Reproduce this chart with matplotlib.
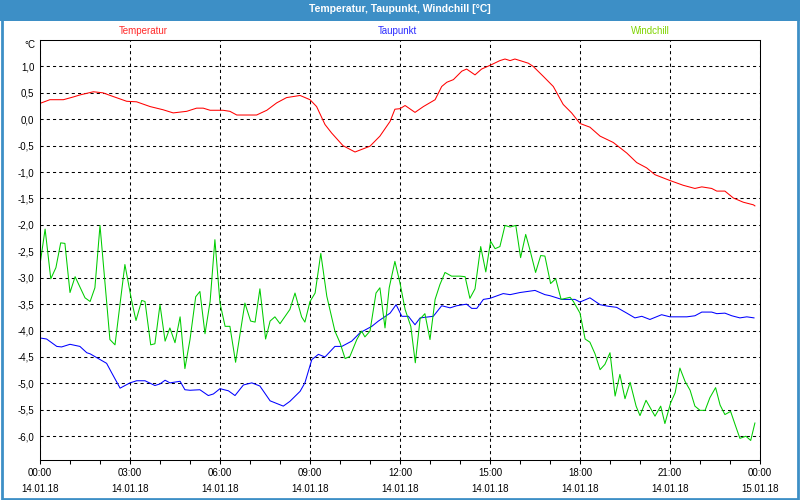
import datetime as dt
import matplotlib
matplotlib.use("Agg")
import matplotlib.pyplot as plt
import matplotlib.dates as mdates
from matplotlib.patches import Rectangle
from matplotlib.ticker import FuncFormatter
import numpy as np

plt.rcParams['font.family'] = ['Liberation Sans', 'DejaVu Sans']

START = dt.datetime(2018, 1, 14)

# (hour after 14.01.18 00:00, °C)
temperatur = [
    (0.0, 0.30), (0.33, 0.37), (0.78, 0.37), (1.1, 0.42), (1.33, 0.46), (1.78, 0.52),
    (2.1, 0.50), (2.44, 0.43), (2.89, 0.34), (3.22, 0.33), (3.67, 0.24), (4.1, 0.18),
    (4.44, 0.12), (4.89, 0.15), (5.22, 0.21), (5.44, 0.21), (5.67, 0.17), (6.1, 0.17),
    (6.33, 0.15), (6.56, 0.08), (7.22, 0.08), (7.56, 0.17), (7.89, 0.31), (8.22, 0.41),
    (8.67, 0.45), (9.0, 0.37), (9.22, 0.24), (9.5, -0.10), (9.72, -0.26), (10.1, -0.50),
    (10.5, -0.62), (11.0, -0.51), (11.33, -0.32), (11.67, -0.04), (11.83, 0.19), (12.0, 0.20),
    (12.17, 0.26), (12.5, 0.13), (12.78, 0.24), (13.17, 0.37), (13.39, 0.62), (13.56, 0.70),
    (13.78, 0.75), (14.06, 0.91), (14.22, 0.95), (14.5, 0.84), (14.72, 0.95), (15.0, 1.02),
    (15.33, 1.11), (15.5, 1.14), (15.67, 1.11), (15.83, 1.14), (16.06, 1.10), (16.28, 1.06),
    (16.44, 1.00), (16.78, 0.81), (17.11, 0.62), (17.44, 0.28), (17.72, 0.12), (18.0, -0.08),
    (18.33, -0.15), (18.67, -0.32), (19.11, -0.44), (19.56, -0.64), (19.89, -0.82), (20.22, -0.92),
    (20.5, -1.05), (21.0, -1.16), (21.44, -1.25), (21.83, -1.31), (22.06, -1.28), (22.39, -1.31),
    (22.56, -1.36), (22.83, -1.36), (23.11, -1.49), (23.44, -1.57), (23.78, -1.62), (23.83, -1.64),
]

taupunkt = [
    (0.0, -4.14), (0.22, -4.16), (0.56, -4.30), (0.72, -4.31), (1.0, -4.26), (1.33, -4.30),
    (1.56, -4.42), (1.67, -4.44), (2.22, -4.62), (2.39, -4.80), (2.67, -5.09), (3.0, -4.99),
    (3.22, -4.95), (3.5, -4.95), (3.83, -5.04), (4.0, -5.01), (4.17, -4.94), (4.33, -4.99),
    (4.67, -4.96), (4.83, -5.12), (5.0, -5.13), (5.33, -5.12), (5.61, -5.23), (5.78, -5.20),
    (6.0, -5.10), (6.28, -5.14), (6.5, -5.23), (6.78, -5.03), (7.06, -4.99), (7.33, -5.05),
    (7.67, -5.33), (8.11, -5.43), (8.33, -5.34), (8.67, -5.15), (8.83, -4.99), (9.06, -4.55),
    (9.28, -4.45), (9.5, -4.50), (9.83, -4.30), (10.06, -4.30), (10.39, -4.20), (10.67, -4.04),
    (11.06, -3.92), (11.28, -3.82), (11.67, -3.67), (11.87, -3.51), (12.06, -3.73), (12.28, -3.73),
    (12.5, -3.89), (12.67, -3.76), (13.11, -3.73), (13.39, -3.53), (13.67, -3.57), (13.89, -3.53),
    (14.22, -3.50), (14.39, -3.58), (14.56, -3.58), (14.78, -3.41), (15.0, -3.39), (15.44, -3.30),
    (15.67, -3.32), (16.0, -3.28), (16.5, -3.24), (16.83, -3.32), (17.0, -3.34), (17.39, -3.41),
    (17.83, -3.41), (18.0, -3.46), (18.33, -3.38), (18.67, -3.51), (18.94, -3.54), (19.22, -3.56),
    (19.56, -3.67), (19.83, -3.76), (20.06, -3.73), (20.33, -3.79), (20.72, -3.70), (21.0, -3.74),
    (21.56, -3.74), (21.83, -3.72), (22.06, -3.65), (22.39, -3.65), (22.56, -3.68), (22.83, -3.67),
    (23.06, -3.72), (23.33, -3.76), (23.56, -3.74), (23.8, -3.76),
]

windchill = [
    (0.0, -2.75), (0.17, -2.08), (0.36, -3.02), (0.53, -2.81), (0.69, -2.34), (0.83, -2.35),
    (1.0, -3.28), (1.17, -2.98), (1.5, -3.38), (1.67, -3.45), (1.83, -3.19), (2.0, -2.01),
    (2.33, -4.17), (2.5, -4.27), (2.83, -2.75), (3.06, -3.45), (3.2, -3.81), (3.39, -3.43),
    (3.5, -3.45), (3.69, -4.27), (3.83, -4.25), (4.0, -3.51), (4.17, -4.20), (4.33, -3.95),
    (4.5, -4.23), (4.67, -3.74), (4.83, -4.72), (5.0, -4.17), (5.19, -3.36), (5.33, -3.26),
    (5.5, -4.06), (5.67, -3.45), (5.83, -2.28), (6.0, -3.48), (6.17, -3.92), (6.33, -3.92),
    (6.52, -4.60), (6.83, -3.48), (7.02, -3.82), (7.17, -3.84), (7.33, -3.21), (7.52, -4.16),
    (7.67, -3.82), (7.83, -3.74), (8.0, -3.87), (8.33, -3.60), (8.5, -3.29), (8.72, -3.74),
    (8.83, -3.84), (9.0, -3.45), (9.17, -3.29), (9.36, -2.54), (9.56, -3.35), (9.83, -4.01),
    (10.0, -4.23), (10.17, -4.53), (10.33, -4.49), (10.56, -4.17), (10.72, -4.01), (10.83, -4.12),
    (11.0, -4.01), (11.2, -3.29), (11.33, -3.19), (11.5, -3.95), (11.64, -3.19), (11.83, -2.69),
    (12.0, -3.10), (12.17, -3.60), (12.36, -3.92), (12.51, -4.61), (12.67, -3.78), (12.83, -3.68),
    (13.0, -4.17), (13.17, -3.41), (13.33, -3.13), (13.5, -2.90), (13.72, -2.97), (14.0, -2.97),
    (14.17, -2.98), (14.33, -3.39), (14.5, -3.21), (14.69, -2.41), (14.86, -2.89), (15.02, -2.31),
    (15.17, -2.45), (15.33, -2.41), (15.5, -2.01), (15.67, -2.04), (15.86, -2.01), (16.02, -2.62),
    (16.19, -2.18), (16.33, -2.47), (16.52, -2.90), (16.69, -2.58), (16.83, -2.59), (17.02, -3.11),
    (17.19, -3.02), (17.37, -3.41), (17.67, -3.37), (17.78, -3.45), (18.0, -3.67), (18.17, -4.16),
    (18.33, -4.22), (18.5, -4.44), (18.67, -4.74), (18.83, -4.64), (19.0, -4.42), (19.17, -5.24),
    (19.33, -4.83), (19.5, -5.29), (19.67, -4.98), (19.87, -5.43), (20.0, -5.61), (20.2, -5.32),
    (20.5, -5.62), (20.69, -5.43), (20.83, -5.76), (21.02, -5.37), (21.17, -5.18), (21.33, -4.71),
    (21.5, -4.96), (21.67, -5.13), (21.83, -5.43), (22.0, -5.51), (22.17, -5.51), (22.33, -5.27),
    (22.52, -5.08), (22.67, -5.41), (22.83, -5.59), (23.02, -5.53), (23.17, -5.78), (23.33, -6.04),
    (23.53, -6.00), (23.69, -6.08), (23.83, -5.75),
]

series = [("Temperatur", temperatur), ("Taupunkt", taupunkt), ("Windchill", windchill)]
line_colors = ["#ff0000", "#0000ff", "#00cc00"]
label_colors = ["#ff2a2a", "#2a2aff", "#80d400"]
label_xpos = [0.144, 0.496, 0.847]   # axes fraction
y_ticks = np.arange(-6.0, 1.01, 0.5)

frame_blue = "#3d8fc6"

fig = plt.figure(figsize=(8, 5), dpi=100)
fig.patch.set_facecolor("white")

# title bar and outer frame
fig.patches.append(Rectangle((0, 0.958), 1, 0.042, transform=fig.transFigure,
                             facecolor=frame_blue, edgecolor="none", zorder=0))
fig.patches.append(Rectangle((0.002, 0.003), 0.995, 0.99, transform=fig.transFigure,
                             facecolor="none", edgecolor=frame_blue, linewidth=2.0, zorder=0))
fig.text(0.5, 0.981, "Temperatur, Taupunkt, Windchill [°C]", ha="center", va="center",
         color="white", fontsize=7.5, fontweight="bold")

ax = fig.add_axes([0.05, 0.08, 0.9, 0.84])

for (name, pts), col in zip(series, line_colors):
    hours = [p[0] for p in pts]
    vals = [p[1] for p in pts]
    times = [START + dt.timedelta(hours=h) for h in hours]
    ax.plot(times, vals, color=col, linewidth=0.75)

ax.set_xlim(START, START + dt.timedelta(hours=24))
ax.set_ylim(-6.45, 1.5)

ax.xaxis.set_major_locator(mdates.HourLocator(byhour=range(0, 24, 3)))
ax.xaxis.set_minor_locator(mdates.HourLocator())
ax.xaxis.set_major_formatter(mdates.DateFormatter("%H:%M\n%d.%m.%y"))
ax.set_yticks(y_ticks)
ax.yaxis.set_major_formatter(FuncFormatter(lambda v, p: f"{v:.1f}".replace(".", ",")))

ax.grid(True, which="major", color="black", linestyle=(0, (3, 3)), linewidth=0.75)
ax.tick_params(axis="x", which="both", direction="out", length=3, width=0.75,
               labelsize=7, pad=3)
ax.tick_params(axis="y", length=0, labelsize=7, pad=4)
for lab in ax.get_xticklabels():
    lab.set_linespacing(1.65)
for sp in ax.spines.values():
    sp.set_linewidth(0.75)
    sp.set_color("black")

ax.annotate("°C", xy=(0, 1), xycoords="axes fraction", xytext=(-3, 0),
            textcoords="offset points", ha="right", va="top", fontsize=7)

for (name, _), col, xp in zip(series, label_colors, label_xpos):
    ax.text(xp, 1.0 + 9 / 420, name, transform=ax.transAxes, ha="center", va="center",
            color=col, fontsize=7)

fig.savefig("out.png", dpi=100)
